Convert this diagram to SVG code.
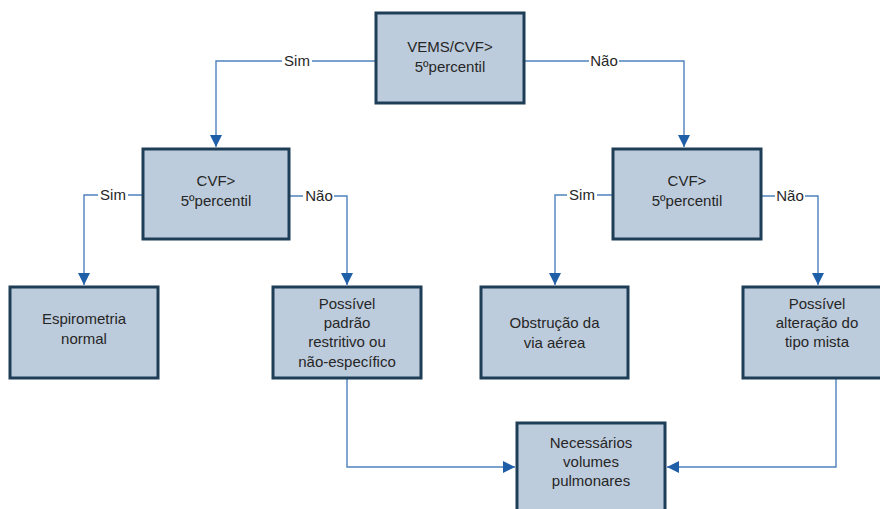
<svg xmlns="http://www.w3.org/2000/svg" width="880" height="509" viewBox="0 0 880 509">
<style>
.box{fill:#BDCCDC;stroke:#1E3D57;stroke-width:3}
.t{font-family:"Liberation Sans",Arial,sans-serif;font-size:15px;fill:#262626;text-anchor:middle}
.c{fill:none;stroke:#4F81BD;stroke-width:1.4}
.lb{fill:#ffffff}
</style>
<defs>
<marker id="ah" markerUnits="userSpaceOnUse" markerWidth="12" markerHeight="12" refX="10" refY="5" orient="auto" viewBox="0 0 10 10">
<path d="M0,0 L10,5 L0,10 z" fill="#1F5FA8"/>
</marker>
</defs>
<rect width="880" height="509" fill="#ffffff"/>
<g id="connectors">
<path class="c" d="M376,61 H216 V147" marker-end="url(#ah)"/>
<path class="c" d="M524,61 H684 V147" marker-end="url(#ah)"/>
<path class="c" d="M143,195 H84 V285" marker-end="url(#ah)"/>
<path class="c" d="M289,196 H347 V285" marker-end="url(#ah)"/>
<path class="c" d="M613,195 H555 V285" marker-end="url(#ah)"/>
<path class="c" d="M761,196 H818 V285" marker-end="url(#ah)"/>
<path class="c" d="M347,378 V467 H515" marker-end="url(#ah)"/>
<path class="c" d="M836,378 V467 H667" marker-end="url(#ah)"/>
<rect class="lb" x="282" y="52" width="30" height="18"/>
<text class="t" x="297" y="66">Sim</text>
<rect class="lb" x="589" y="52" width="30" height="18"/>
<text class="t" x="604" y="66">Não</text>
<rect class="lb" x="98" y="186" width="30" height="18"/>
<text class="t" x="113" y="200">Sim</text>
<rect class="lb" x="303" y="187" width="31" height="18"/>
<text class="t" x="319" y="201">Não</text>
<rect class="lb" x="567" y="186" width="30" height="18"/>
<text class="t" x="582" y="200">Sim</text>
<rect class="lb" x="775" y="187" width="30" height="18"/>
<text class="t" x="790" y="201">Não</text>
</g>
<g id="n_vems">
<rect class="box" x="376" y="13" width="148" height="90"/>
<text class="t" x="450" y="52">VEMS/CVF&gt;</text>
<text class="t" x="450" y="72">5ºpercentil</text>
</g>
<g id="n_cvf_left">
<rect class="box" x="143" y="149" width="146" height="90"/>
<text class="t" x="216" y="186">CVF&gt;</text>
<text class="t" x="216" y="206">5ºpercentil</text>
</g>
<g id="n_cvf_right">
<rect class="box" x="613" y="149" width="148" height="90"/>
<text class="t" x="687" y="186">CVF&gt;</text>
<text class="t" x="687" y="206">5ºpercentil</text>
</g>
<g id="n_normal">
<rect class="box" x="10" y="287" width="148" height="91"/>
<text class="t" x="84" y="324">Espirometria</text>
<text class="t" x="84" y="344">normal</text>
</g>
<g id="n_restritivo">
<rect class="box" x="273" y="287" width="148" height="91"/>
<text class="t" x="347" y="309">Possível</text>
<text class="t" x="347" y="328">padrão</text>
<text class="t" x="347" y="347">restritivo ou</text>
<text class="t" x="347" y="367">não-específico</text>
</g>
<g id="n_obstrucao">
<rect class="box" x="481" y="287" width="147" height="91"/>
<text class="t" x="554.5" y="328">Obstrução da</text>
<text class="t" x="554.5" y="348">via aérea</text>
</g>
<g id="n_mista">
<rect class="box" x="743" y="287" width="148" height="91"/>
<text class="t" x="817" y="309">Possível</text>
<text class="t" x="817" y="328">alteração do</text>
<text class="t" x="817" y="347">tipo mista</text>
</g>
<g id="n_volumes">
<rect class="box" x="517" y="423" width="148" height="92"/>
<text class="t" x="591" y="448">Necessários</text>
<text class="t" x="591" y="467">volumes</text>
<text class="t" x="591" y="486">pulmonares</text>
</g>
</svg>
